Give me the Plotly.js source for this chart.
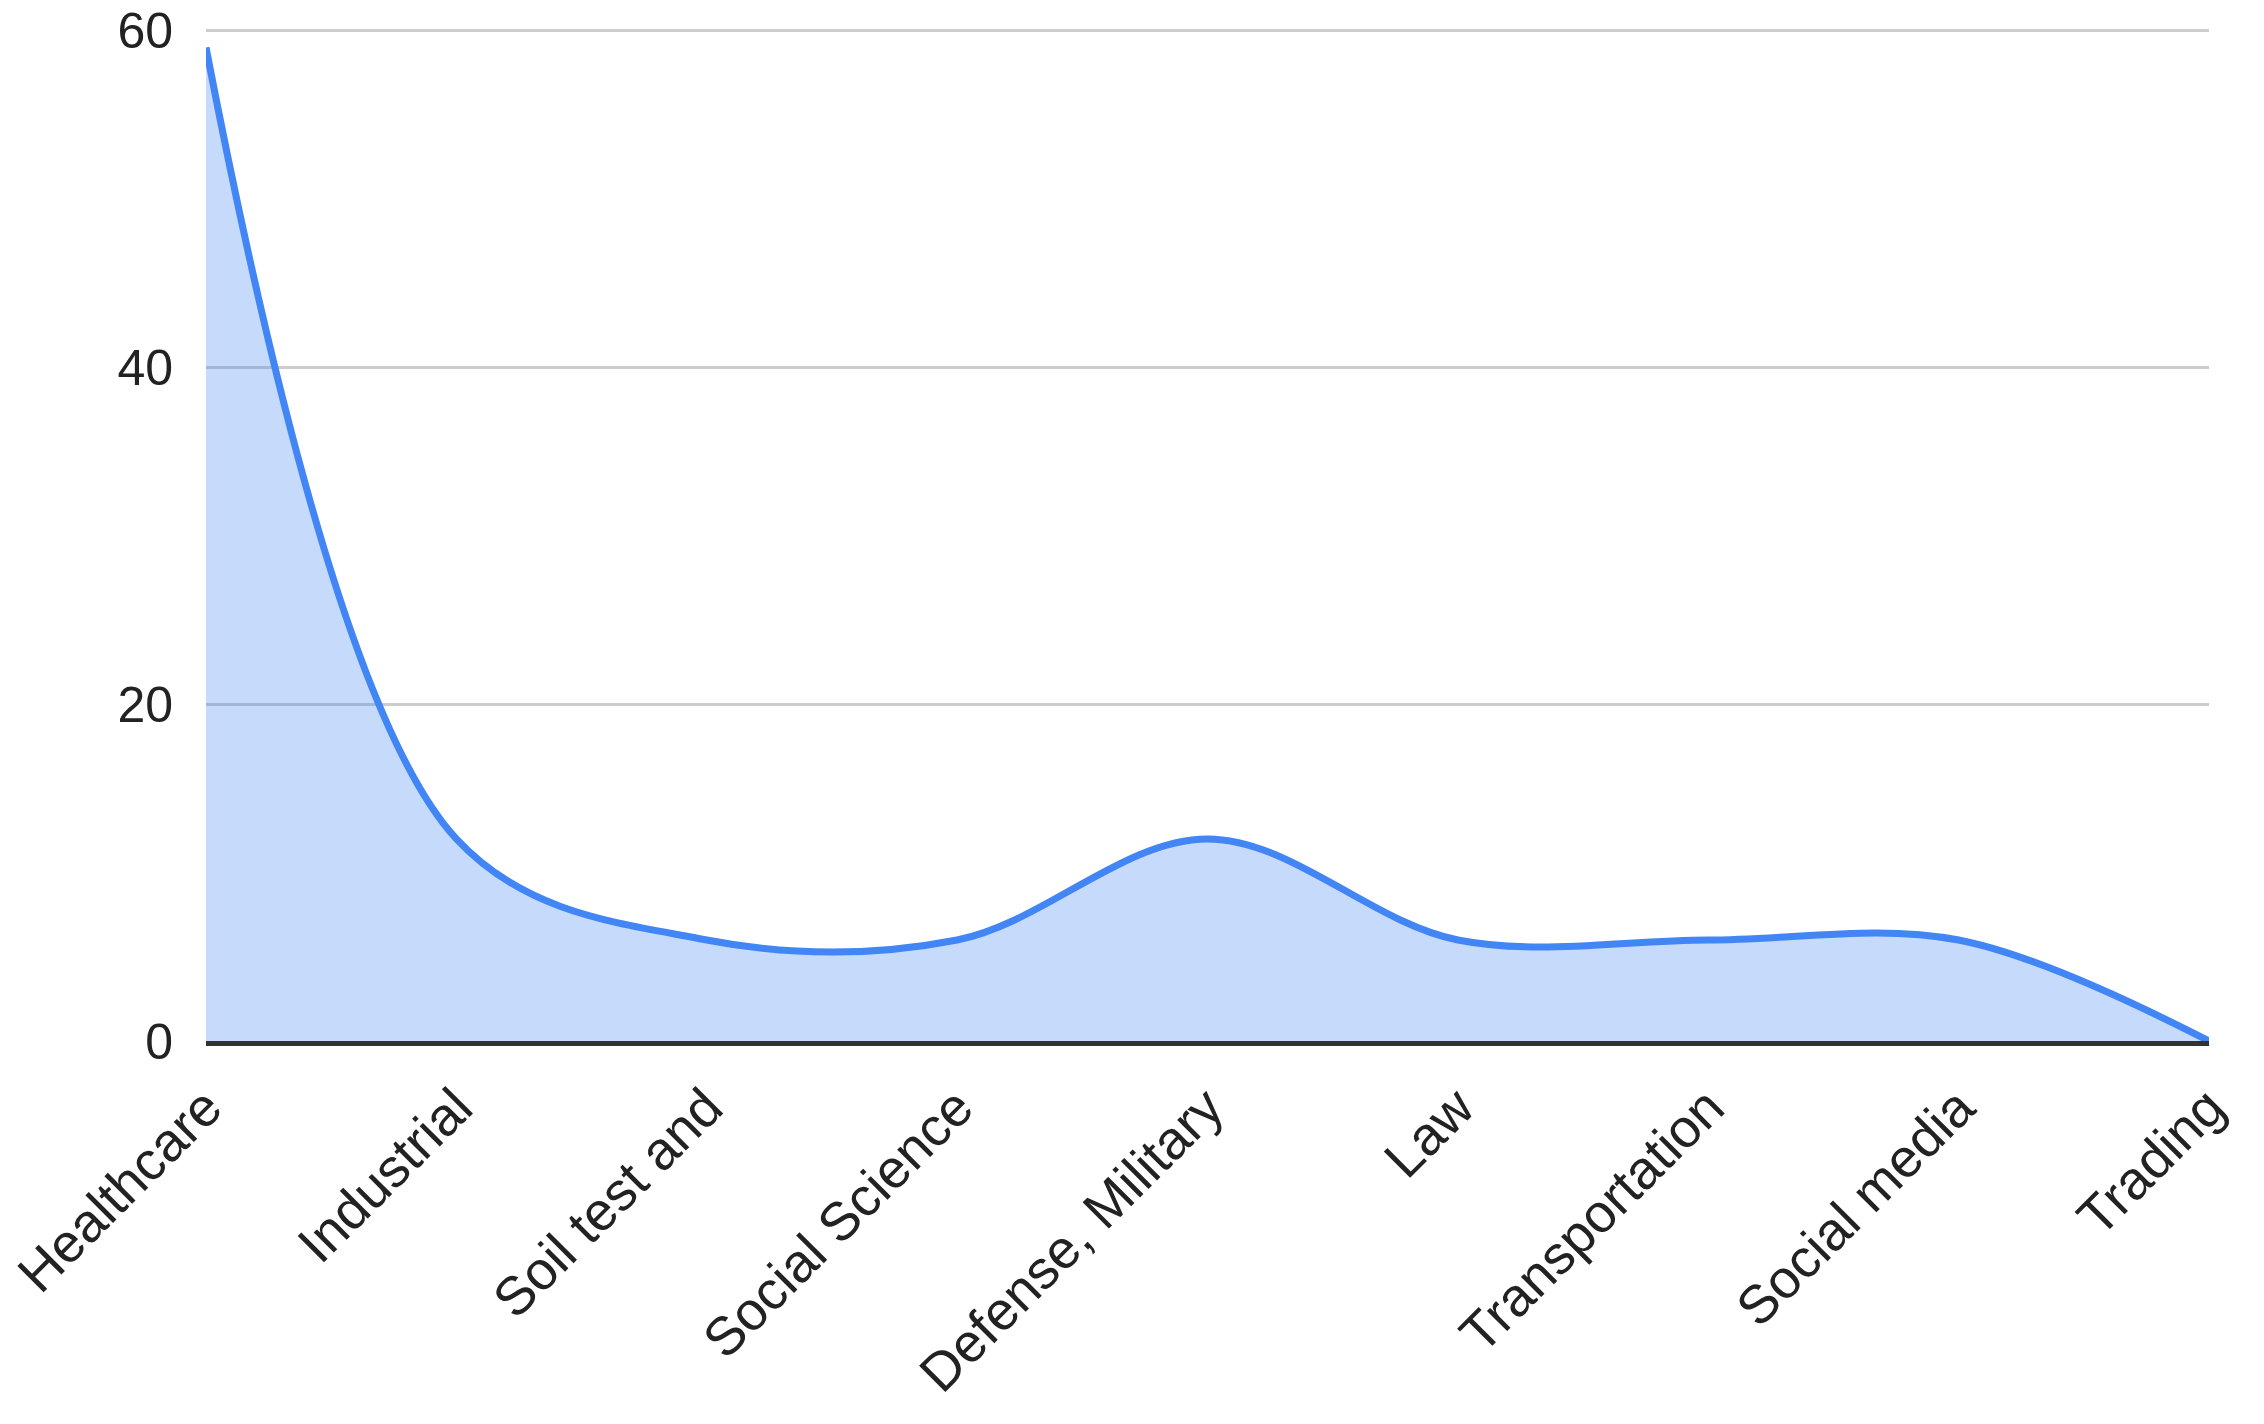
<!DOCTYPE html>
<html>
<head>
<meta charset="utf-8">
<script src="https://cdn.plot.ly/plotly-3.0.1.min.js"></script>
<style>
  html, body { margin: 0; padding: 0; background: #fff; }
  #chart { width: 2264px; height: 1424px; }
</style>
</head>
<body>
<div id="chart"></div>
<script>
// data
const fields = ["Healthcare", "Industrial", "Soil test and", "Social Science", "Defense, Military",
                "Law", "Transportation", "Social media", "Trading"];
const counts = [59, 12, 6, 6, 12, 6, 6, 6, 0];
const yTicks = [0, 20, 40, 60];

const fontFamily = 'Liberation Sans, Arial, sans-serif';

var trace = {
    x: fields,
    y: counts,
    type: 'scatter',
    mode: 'lines',
    line: {
        color: '#4285f4',
        width: 7,
        shape: 'spline',
        smoothing: 1
    },
    fill: 'tozeroy',
    fillcolor: 'rgba(66,133,244,0.3)',
    hoverinfo: 'x+y'
};

var layout = {
    width: 2264,
    height: 1424,
    showlegend: false,
    margin: { l: 206, r: 55, t: 29, b: 383, pad: 0 },
    paper_bgcolor: '#ffffff',
    plot_bgcolor: '#ffffff',
    xaxis: {
        type: 'category',
        range: [0, fields.length - 1],
        tickangle: -45,
        showgrid: false,
        zeroline: false,
        showline: true,
        linecolor: '#333333',
        linewidth: 5,
        layer: 'above traces',
        ticks: '',
        tickfont: { family: fontFamily, size: 54, color: '#222222' },
        ticklabelstandoff: 8
    },
    yaxis: {
        range: [0, 60.1],   // a hair over 60 so the top gridline is kept
        tickvals: yTicks,
        showgrid: true,
        gridcolor: '#cccccc',
        gridwidth: 3,
        zeroline: false,
        showline: false,
        ticks: '',
        tickfont: { family: fontFamily, size: 50, color: '#222222' },
        ticklabelstandoff: 32,
        ticklabeloverflow: 'allow'
    }
};

Plotly.newPlot('chart', [trace], layout, { displayModeBar: false, staticPlot: true });
</script>
</body>
</html>
